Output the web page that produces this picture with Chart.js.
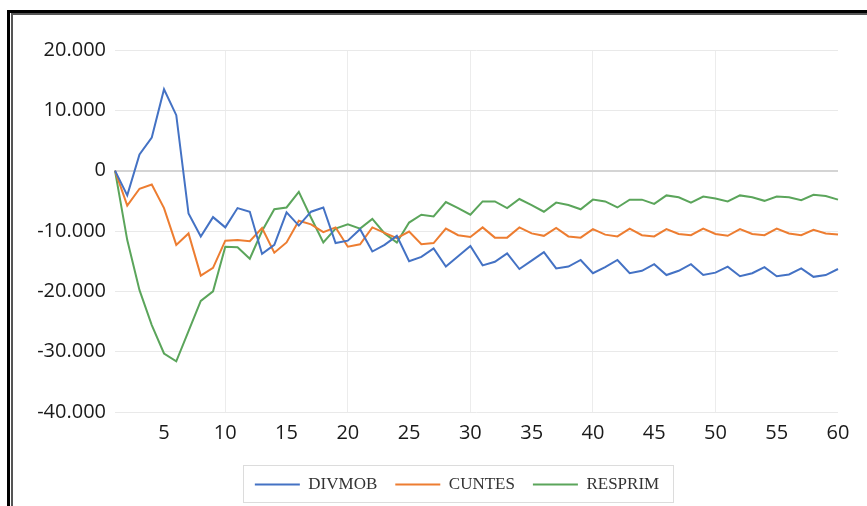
<!DOCTYPE html>
<html>
<head>
<meta charset="utf-8">
<script src="https://cdn.jsdelivr.net/npm/chart.js@4.4.0/dist/chart.umd.min.js"></script>
<style>
  html, body { margin: 0; padding: 0; background: #ffffff; }
  #wrap { position: relative; width: 867px; height: 506px; overflow: hidden; background: #fff; }
  .b1 { position: absolute; left: 7px; top: 10px; width: 900px; height: 600px; border-left: 3px solid #000; border-top: 3px solid #000; }
  .b2 { position: absolute; left: 11px; top: 13px; width: 900px; height: 600px; border-left: 2px solid #555; border-top: 2px solid #555; }
  canvas { position: absolute; left: 0; top: 0; }
</style>
</head>
<body>
<div id="wrap">
  <div class="b1"></div>
  <div class="b2"></div>
  <canvas id="c" width="867" height="506"></canvas>
</div>
<script>
const periods = Array.from({length: 60}, (_, i) => String(i + 1));

const seriesNames = ['DIVMOB', 'CUNTES', 'RESPRIM'];

const DIVMOB = [0, -4100, 2700, 5500, 13500, 9200, -7100, -10900, -7700, -9400,
  -6200, -6800, -13800, -12300, -6900, -9100, -6800, -6100, -12000, -11600,
  -9700, -13400, -12300, -10800, -15000, -14300, -12900, -15900, -14200, -12500,
  -15700, -15100, -13700, -16300, -14900, -13500, -16200, -15900, -14800, -17000,
  -16000, -14800, -17000, -16600, -15500, -17300, -16600, -15500, -17300, -16900,
  -15900, -17500, -17000, -16000, -17500, -17200, -16200, -17600, -17300, -16300];

const CUNTES = [0, -5800, -3000, -2300, -6200, -12300, -10400, -17400, -16100, -11600,
  -11500, -11700, -9500, -13600, -11900, -8300, -8900, -10200, -9400, -12600,
  -12200, -9400, -10300, -11200, -10100, -12200, -12000, -9600, -10700, -11000,
  -9400, -11100, -11100, -9400, -10400, -10800, -9500, -10900, -11100, -9700,
  -10600, -10900, -9600, -10700, -10900, -9700, -10500, -10700, -9600, -10500,
  -10800, -9700, -10500, -10700, -9600, -10400, -10700, -9800, -10400, -10600];

const RESPRIM = [0, -11500, -19800, -25600, -30300, -31600, -26600, -21600, -20000, -12600,
  -12700, -14600, -10000, -6400, -6100, -3500, -7800, -11900, -9600, -8900,
  -9600, -8000, -10400, -11900, -8600, -7300, -7600, -5200, -6200, -7300,
  -5100, -5100, -6200, -4700, -5700, -6800, -5300, -5700, -6400, -4800,
  -5100, -6100, -4800, -4800, -5500, -4100, -4400, -5300, -4300, -4600,
  -5100, -4100, -4400, -5000, -4300, -4400, -4900, -4000, -4200, -4800];

const yTicks = [20000, 10000, 0, -10000, -20000, -30000, -40000];

const colors = ['#4472C4', '#ED7D31', '#5BA55B'];

function fmt(v) {
  if (v === 0) return '0';
  const s = v < 0 ? '-' : '';
  const a = Math.abs(v);
  const th = Math.floor(a / 1000);
  const rest = String(a % 1000).padStart(3, '0');
  return s + th + '.' + rest;
}

const legendShift = {
  id: 'legendShift',
  afterLayout(chart) {
    const lg = chart.legend;
    if (lg) { lg.left += 38; lg.right += 38; }
  },
  afterDraw(chart) {
    const lg = chart.legend;
    if (!lg || !lg.legendHitBoxes || !lg.legendHitBoxes.length) return;
    const hb = lg.legendHitBoxes;
    const first = hb[0], last = hb[hb.length - 1];
    const cy = first.top + first.height / 2;
    const ctx = chart.ctx;
    ctx.save();
    ctx.strokeStyle = '#dcdcdc';
    ctx.lineWidth = 1;
    const l = Math.round(first.left - 12) + 0.5;
    const r = Math.round(last.left + last.width + 14) + 0.5;
    const t = Math.round(cy - 20) + 0.5;
    const b = Math.round(cy + 17) + 0.5;
    ctx.strokeRect(l, t, r - l, b - t);
    ctx.restore();
  }
};

const data = [DIVMOB, CUNTES, RESPRIM];

new Chart(document.getElementById('c'), {
  type: 'line',
  data: {
    labels: periods,
    datasets: seriesNames.map((n, i) => ({
      label: n,
      data: data[i],
      borderColor: colors[i],
      backgroundColor: colors[i],
      borderWidth: 2,
      pointRadius: 0,
      pointHoverRadius: 0,
      tension: 0,
      fill: false,
      pointStyle: 'line'
    }))
  },
  options: {
    responsive: false,
    animation: false,
    devicePixelRatio: 1,
    layout: { padding: { top: 50, right: 29, bottom: 3, left: 0 } },
    plugins: {
      tooltip: { enabled: false },
      legend: {
        position: 'bottom',
        align: 'center',
        labels: {
          usePointStyle: true,
          pointStyle: 'line',
          pointStyleWidth: 45,
          boxWidth: 45,
          boxHeight: 18,
          padding: 18,
          color: '#333333',
          font: { family: '"Liberation Serif", "Times New Roman", serif', size: 17 }
        }
      }
    },
    scales: {
      x: {
        type: 'category',
        offset: false,
        border: { display: false },
        grid: {
          drawTicks: false,
          color: (ctx) => {
            const v = ctx.index + 1;
            return (v % 10 === 0 && v < 60) ? '#ececec' : 'rgba(0,0,0,0)';
          },
          lineWidth: 1
        },
        ticks: {
          autoSkip: false,
          maxRotation: 0,
          minRotation: 0,
          padding: 9,
          color: '#1a1a1a',
          font: { family: '"Open Sans", sans-serif', size: 20 },
          callback: function (val, idx) {
            const lab = periods[idx];
            return (Number(lab) % 5 === 0) ? lab : '';
          }
        },
        afterFit: (s) => { s.height = 46; }
      },
      y: {
        min: -40000,
        max: 20000,
        border: { display: false },
        afterBuildTicks: (s) => { s.ticks = yTicks.map(v => ({ value: v })); },
        grid: {
          drawTicks: false,
          color: (ctx) => (ctx.tick && ctx.tick.value === 0) ? '#d4d4d4' : '#e9e9e9',
          lineWidth: (ctx) => (ctx.tick && ctx.tick.value === 0) ? 2 : 1
        },
        ticks: {
          padding: 9,
          color: '#1a1a1a',
          font: { family: '"Open Sans", sans-serif', size: 20 },
          callback: (v) => fmt(v)
        },
        afterFit: (s) => { s.width = 115; }
      }
    }
  },
  plugins: [legendShift]
});
</script>
</body>
</html>
